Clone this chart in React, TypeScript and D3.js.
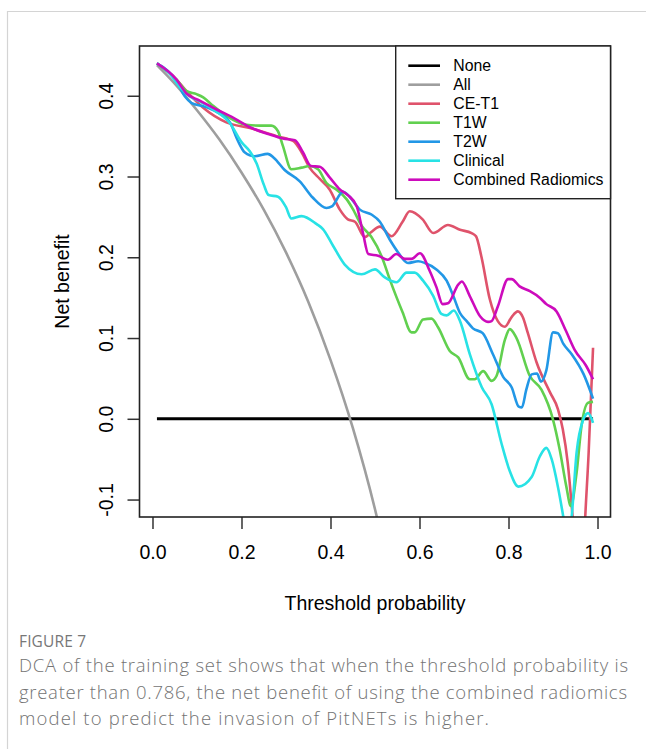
import React, { useEffect, useRef } from "react";
import * as d3 from "d3";

// legend / series order as drawn by R
const seriesNames = ["None", "All", "CE-T1", "T1W", "T2W", "Clinical", "Combined Radiomics"];
const seriesColors = ["#000000", "#9E9E9E", "#DF536B", "#61D04F", "#2297E6", "#28E2E5", "#CD0BBC"];

const xTicks = [0, 0.2, 0.4, 0.6, 0.8, 1.0];
const yTicks = [-0.1, 0, 0.1, 0.2, 0.3, 0.4];

const noneT = [0.01, 0.99];
const noneV = [0, 0];

const allT = [0.01, 0.05, 0.10, 0.15, 0.20, 0.25, 0.30, 0.35, 0.40, 0.45, 0.50, 0.55];
const allV = [0.438, 0.415, 0.382, 0.346, 0.305, 0.259, 0.206, 0.145, 0.073, -0.011, -0.112, -0.236];

const ceT1T = [0.01, 0.054, 0.076, 0.114, 0.166, 0.219, 0.279, 0.316, 0.335, 0.353, 0.376, 0.398, 0.421, 0.439, 0.455, 0.477, 0.491, 0.511, 0.537, 0.562, 0.578, 0.607, 0.631, 0.664, 0.691, 0.717, 0.727, 0.739, 0.758, 0.776, 0.792, 0.807, 0.821, 0.832, 0.843, 0.863, 0.893, 0.911, 0.922, 0.933, 0.944, 0.955, 0.962, 0.970, 0.980, 0.99];
const ceT1V = [0.440, 0.420, 0.406, 0.385, 0.367, 0.360, 0.350, 0.344, 0.330, 0.311, 0.297, 0.284, 0.259, 0.247, 0.244, 0.225, 0.231, 0.238, 0.226, 0.244, 0.257, 0.247, 0.230, 0.240, 0.234, 0.230, 0.226, 0.201, 0.148, 0.121, 0.114, 0.126, 0.133, 0.126, 0.107, 0.070, 0.033, 0.012, -0.013, -0.054, -0.121, -0.20, -0.30, -0.153, -0.043, 0.088];

const t1wT = [0.01, 0.054, 0.076, 0.099, 0.114, 0.133, 0.166, 0.211, 0.241, 0.267, 0.282, 0.293, 0.312, 0.335, 0.353, 0.372, 0.391, 0.413, 0.436, 0.450, 0.470, 0.492, 0.515, 0.533, 0.562, 0.582, 0.589, 0.608, 0.627, 0.642, 0.668, 0.687, 0.713, 0.724, 0.743, 0.762, 0.773, 0.792, 0.803, 0.818, 0.848, 0.874, 0.900, 0.915, 0.930, 0.940, 0.953, 0.964, 0.979, 0.99];
const t1wV = [0.440, 0.420, 0.406, 0.402, 0.398, 0.389, 0.375, 0.364, 0.363, 0.363, 0.356, 0.338, 0.309, 0.311, 0.313, 0.309, 0.292, 0.284, 0.272, 0.260, 0.239, 0.225, 0.201, 0.173, 0.132, 0.107, 0.107, 0.123, 0.124, 0.113, 0.084, 0.076, 0.049, 0.049, 0.059, 0.047, 0.053, 0.098, 0.111, 0.100, 0.053, 0.036, -0.001, -0.038, -0.084, -0.108, -0.067, -0.009, 0.020, 0.021];

const t2wT = [0.01, 0.054, 0.073, 0.088, 0.114, 0.144, 0.174, 0.192, 0.207, 0.230, 0.259, 0.273, 0.297, 0.331, 0.360, 0.391, 0.403, 0.428, 0.443, 0.466, 0.492, 0.511, 0.533, 0.552, 0.574, 0.597, 0.612, 0.638, 0.661, 0.676, 0.691, 0.706, 0.720, 0.742, 0.765, 0.788, 0.807, 0.823, 0.830, 0.840, 0.852, 0.864, 0.873, 0.885, 0.900, 0.911, 0.923, 0.942, 0.969, 0.99];
const t2wV = [0.440, 0.418, 0.399, 0.391, 0.387, 0.380, 0.367, 0.344, 0.330, 0.325, 0.328, 0.323, 0.308, 0.294, 0.274, 0.261, 0.263, 0.281, 0.275, 0.259, 0.253, 0.244, 0.222, 0.206, 0.193, 0.195, 0.193, 0.185, 0.171, 0.152, 0.131, 0.121, 0.112, 0.106, 0.080, 0.052, 0.039, 0.015, 0.014, 0.036, 0.055, 0.056, 0.046, 0.060, 0.107, 0.106, 0.093, 0.080, 0.055, 0.025];

const clinicalT = [0.01, 0.039, 0.064, 0.084, 0.106, 0.136, 0.174, 0.201, 0.219, 0.234, 0.250, 0.261, 0.282, 0.300, 0.312, 0.335, 0.369, 0.383, 0.406, 0.432, 0.470, 0.500, 0.522, 0.548, 0.571, 0.589, 0.608, 0.631, 0.649, 0.661, 0.677, 0.691, 0.713, 0.740, 0.762, 0.784, 0.803, 0.822, 0.852, 0.870, 0.885, 0.897, 0.911, 0.923, 0.933, 0.942, 0.953, 0.968, 0.979, 0.99];
const clinicalV = [0.440, 0.427, 0.409, 0.399, 0.393, 0.383, 0.366, 0.342, 0.331, 0.316, 0.290, 0.277, 0.275, 0.262, 0.248, 0.251, 0.241, 0.235, 0.214, 0.191, 0.179, 0.185, 0.175, 0.169, 0.181, 0.181, 0.171, 0.152, 0.130, 0.128, 0.134, 0.121, 0.080, 0.039, 0.018, -0.030, -0.065, -0.084, -0.072, -0.047, -0.036, -0.050, -0.084, -0.121, -0.156, -0.121, -0.042, -0.001, 0.007, -0.005];

const combinedT = [0.01, 0.054, 0.076, 0.106, 0.144, 0.181, 0.219, 0.264, 0.293, 0.320, 0.338, 0.356, 0.376, 0.398, 0.421, 0.439, 0.459, 0.473, 0.485, 0.507, 0.529, 0.548, 0.567, 0.582, 0.601, 0.623, 0.638, 0.652, 0.664, 0.687, 0.695, 0.713, 0.736, 0.754, 0.762, 0.776, 0.799, 0.807, 0.825, 0.848, 0.870, 0.885, 0.908, 0.929, 0.949, 0.974, 0.99];
const combinedV = [0.440, 0.420, 0.403, 0.394, 0.383, 0.373, 0.361, 0.352, 0.347, 0.345, 0.330, 0.313, 0.312, 0.299, 0.284, 0.277, 0.263, 0.230, 0.204, 0.202, 0.197, 0.204, 0.198, 0.198, 0.205, 0.183, 0.163, 0.142, 0.143, 0.166, 0.170, 0.152, 0.127, 0.120, 0.121, 0.139, 0.173, 0.173, 0.164, 0.158, 0.150, 0.142, 0.133, 0.109, 0.085, 0.066, 0.049];

const captionLines = [
  "DCA of the training set shows that when the threshold probability is",
  "greater than 0.786, the net benefit of using the combined radiomics",
  "model to predict the invasion of PitNETs is higher.",
];
const captionWidths = [609, 608, 470];

// R prints a plain hyphen for negatives
const fmt = (d: number) => d.toFixed(1);

const App = () => {
  const ref = useRef<SVGSVGElement>(null);

  useEffect(() => {
    const svg = d3.select(ref.current);
    svg.selectAll("*").remove();

    const box = { left: 139.5, right: 610.5, top: 46, bottom: 517 };
    const font = "'Liberation Sans', Arial, sans-serif";

    const x = d3.scaleLinear().domain([-0.0292, 1.0292]).range([box.left, box.right]);
    const y = d3.scaleLinear().domain([-0.1216, 0.4616]).range([box.bottom, box.top]);

    // card frame around the figure
    svg.append("path")
      .attr("d", "M7.5,749 L7.5,11.5 L646,11.5")
      .attr("fill", "none")
      .attr("stroke", "#d4d4d4")
      .attr("stroke-width", 1.2);

    svg.append("defs").append("clipPath")
      .attr("id", "plotclip")
      .append("rect")
      .attr("x", box.left)
      .attr("y", box.top)
      .attr("width", box.right - box.left)
      .attr("height", box.bottom - box.top);

    const series = [
      [noneT, noneV], [allT, allV], [ceT1T, ceT1V], [t1wT, t1wV],
      [t2wT, t2wV], [clinicalT, clinicalV], [combinedT, combinedV],
    ];

    const line = d3.line<[number, number]>()
      .x(d => x(d[0]))
      .y(d => y(d[1]))
      .curve(d3.curveMonotoneX);

    const plot = svg.append("g").attr("clip-path", "url(#plotclip)");
    series.forEach(([ts, vs], i) => {
      const pts = ts.map((t, j) => [t, vs[j]] as [number, number]);
      plot.append("path")
        .datum(pts)
        .attr("fill", "none")
        .attr("stroke", seriesColors[i])
        .attr("stroke-width", i === 0 ? 3 : 2.6)
        .attr("stroke-linejoin", "round")
        .attr("d", line);
    });

    // axes
    const xAxis = svg.append("g")
      .attr("transform", `translate(0,${box.bottom})`)
      .call(d3.axisBottom(x).tickValues(xTicks).tickSize(12).tickPadding(16).tickFormat(fmt));
    const yAxis = svg.append("g")
      .attr("transform", `translate(${box.left},0)`)
      .call(d3.axisLeft(y).tickValues(yTicks).tickSize(12).tickFormat(fmt));

    [xAxis, yAxis].forEach(ax => {
      ax.select(".domain").remove();
      ax.selectAll("line").attr("stroke", "#333").attr("stroke-width", 1.5);
      ax.selectAll("text")
        .attr("font-family", font)
        .attr("font-size", 19.5)
        .attr("fill", "#000");
    });
    yAxis.selectAll("text")
      .attr("x", 0)
      .attr("dy", "0.36em")
      .attr("text-anchor", "middle")
      .attr("transform", "translate(-34,0) rotate(-90)");

    // plot box
    svg.append("rect")
      .attr("x", box.left)
      .attr("y", box.top)
      .attr("width", box.right - box.left)
      .attr("height", box.bottom - box.top)
      .attr("fill", "none")
      .attr("stroke", "#222")
      .attr("stroke-width", 1.6);

    svg.append("text")
      .attr("x", (box.left + box.right) / 2)
      .attr("y", 610)
      .attr("text-anchor", "middle")
      .attr("font-family", font)
      .attr("font-size", 19.5)
      .text("Threshold probability");

    svg.append("text")
      .attr("transform", `translate(69,${(box.top + box.bottom) / 2}) rotate(-90)`)
      .attr("text-anchor", "middle")
      .attr("font-family", font)
      .attr("font-size", 19.5)
      .text("Net benefit");

    // legend, top right
    const legend = svg.append("g");
    legend.append("rect")
      .attr("x", 395.7)
      .attr("y", box.top)
      .attr("width", box.right - 395.7)
      .attr("height", 198.7 - box.top)
      .attr("fill", "#fff")
      .attr("stroke", "#222")
      .attr("stroke-width", 1.4);
    seriesNames.forEach((name, i) => {
      const ly = 65.7 + i * 19;
      legend.append("line")
        .attr("x1", 408.3).attr("x2", 440)
        .attr("y1", ly).attr("y2", ly)
        .attr("stroke", seriesColors[i])
        .attr("stroke-width", 2.6);
      legend.append("text")
        .attr("x", 453.3)
        .attr("y", ly)
        .attr("dy", "0.36em")
        .attr("font-family", font)
        .attr("font-size", 15.8)
        .text(name);
    });

    // caption
    svg.append("text")
      .attr("x", 19)
      .attr("y", 647)
      .attr("font-family", "'Open Sans', sans-serif")
      .attr("font-size", 15.5)
      .attr("fill", "#777")
      .attr("textLength", 67)
      .text("FIGURE 7");
    captionLines.forEach((s, i) => {
      svg.append("text")
        .attr("x", 19)
        .attr("y", 672 + i * 26.5)
        .attr("font-family", "'Open Sans', sans-serif")
        .attr("font-weight", 300)
        .attr("font-size", 18.5)
        .attr("fill", "#737373")
        .attr("textLength", captionWidths[i])
        .attr("lengthAdjust", "spacing")
        .text(s);
    });
  }, []);

  return (
    <svg ref={ref} width={646} height={749}
         style={{ position: "absolute", left: 0, top: 0, background: "#fff" }} />
  );
};

export default App;
